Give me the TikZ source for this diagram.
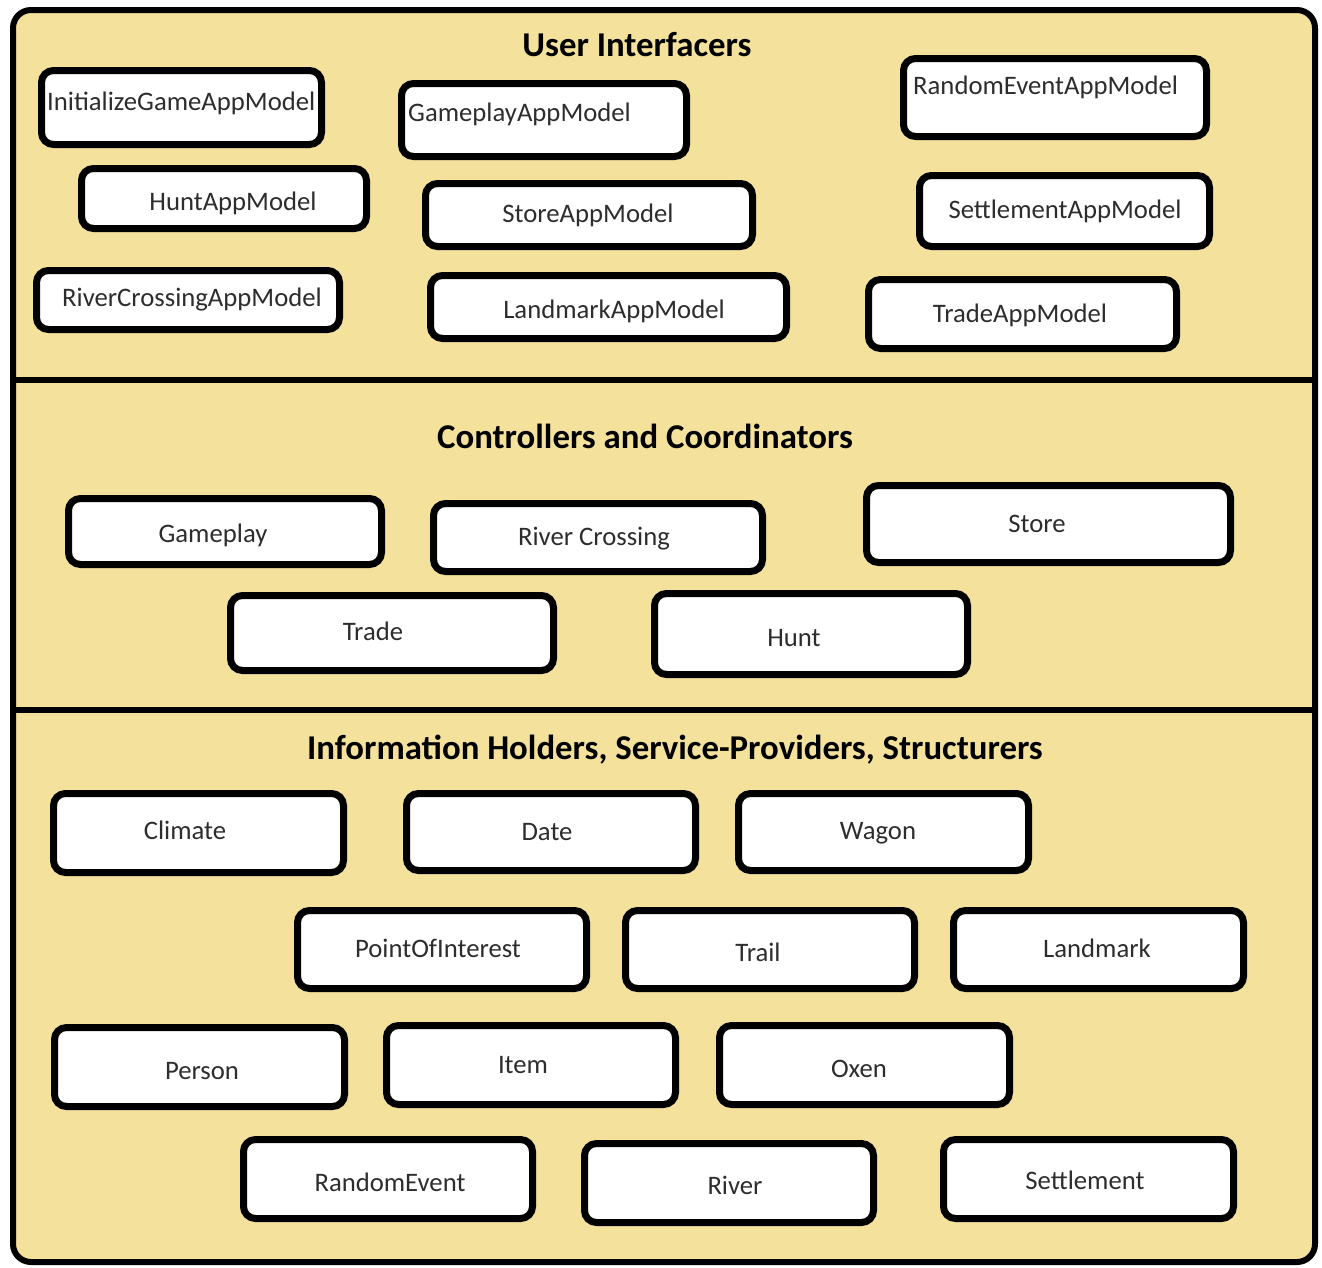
\documentclass[tikz,border=0pt]{standalone}
\usepackage{fontspec}
\setmainfont{Carlito}
\definecolor{tan}{RGB}{243,225,156}
\definecolor{lbltext}{RGB}{45,45,45}
\tikzset{
  framest/.style={draw=black, line width=6pt, fill=tan, rounded corners=18pt, inner sep=0pt},
  divider/.style={draw=black, line width=6pt},
  boxst/.style={draw=black, line width=7pt, fill=white, rounded corners=12pt, inner sep=0pt},
  lbl/.style={text=lbltext, font=\fontsize{26.7}{30}\selectfont, inner sep=0pt},
  lblw/.style={lbl, anchor=west},
  title/.style={text=black, font=\bfseries\fontsize{34.8}{38}\selectfont, inner sep=0pt}
}
\newcommand\mkbox[8]{%
  \node[boxst, minimum width={#4-#2-7}, minimum height={#5-#3-7}] (#1) at ({(#2+#4)/2},{(#3+#5)/2}) {};
  \node[lbl] (#1-t) at (#6,#7) {#8};
}
\newcommand\mkboxw[8]{%
  \node[boxst, minimum width={#4-#2-7}, minimum height={#5-#3-7}] (#1) at ({(#2+#4)/2},{(#3+#5)/2}) {};
  \node[lblw] (#1-t) at (#6,#7) {#8};
}
\begin{document}
\begin{tikzpicture}[x=1pt,y=-1pt]
\useasboundingbox (0,0) rectangle (1322,1267);
\node[framest, minimum width=1302pt, minimum height=1252pt] (frame) at (664,636) {};
\coordinate (d1l) at (13,380); \coordinate (d1r) at (1315,380);
\coordinate (d2l) at (13,710); \coordinate (d2r) at (1315,710);
\draw[divider] (d1l) -- (d1r);
\draw[divider] (d2l) -- (d2r);
% titles
\node[title] (t1) at (637,45) {User Interfacers};
\node[title] (t2) at (645,436) {Controllers and Coordinators};
\node[title] (t3) at (675,750) {Information Holders, Service-Providers, Structurers};
% user interfacers
\mkboxw{igam}{38}{67}{325}{148}{47}{103}{InitializeGameAppModel}
\mkboxw{gam}{398}{80}{690}{160}{408}{114}{GameplayAppModel}
\mkboxw{ream}{900}{55}{1210}{140}{913}{87}{RandomEventAppModel}
\mkbox{ham}{78}{165}{370}{232}{233}{203}{HuntAppModel}
\mkbox{sam}{422}{180}{756}{250}{588}{215}{StoreAppModel}
\mkbox{seam}{916}{172}{1213}{250}{1065}{211}{SettlementAppModel}
\mkbox{rcam}{33}{267}{343}{333}{192}{300}{RiverCrossingAppModel}
\mkbox{lam}{427}{272}{790}{342}{614}{311}{LandmarkAppModel}
\mkbox{tam}{865}{276}{1180}{352}{1020}{315}{TradeAppModel}
% controllers
\mkbox{gp}{65}{495}{385}{568}{213}{535}{Gameplay}
\mkbox{rc}{430}{500}{766}{575}{594}{539}{River Crossing}
\mkbox{st}{863}{482}{1234}{566}{1037}{524}{Store}
\mkbox{tr}{227}{592}{557}{674}{373}{631}{Trade}
\mkbox{hu}{651}{590}{971}{678}{794}{638}{Hunt}
% info holders
\mkbox{cl}{50}{790}{347}{876}{185}{830}{Climate}
\mkbox{da}{403}{790}{699}{874}{547}{832}{Date}
\mkbox{wa}{735}{790}{1032}{874}{878}{833}{Wagon}
\mkbox{poi}{294}{907}{590}{992}{438}{948}{PointOfInterest}
\mkbox{tl}{622}{907}{918}{992}{758}{952}{Trail}
\mkbox{lm}{950}{907}{1247}{992}{1097}{948}{Landmark}
\mkbox{pe}{51}{1024}{348}{1110}{202}{1071}{Person}
\mkbox{it}{383}{1022}{679}{1108}{523}{1065}{Item}
\mkbox{ox}{716}{1022}{1013}{1108}{859}{1069}{Oxen}
\mkbox{re}{240}{1136}{536}{1222}{390}{1182}{RandomEvent}
\mkbox{ri}{581}{1140}{877}{1226}{735}{1185}{River}
\mkbox{se}{940}{1136}{1237}{1222}{1085}{1180}{Settlement}
\end{tikzpicture}
\end{document}
